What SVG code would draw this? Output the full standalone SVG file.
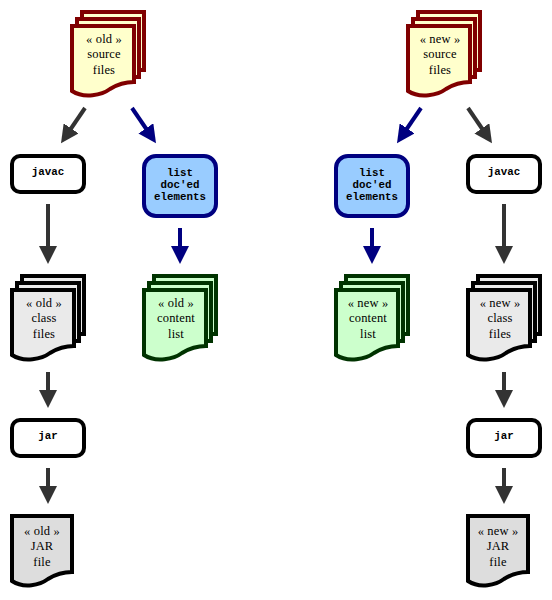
<svg xmlns="http://www.w3.org/2000/svg" xmlns:xlink="http://www.w3.org/1999/xlink" width="552" height="600" viewBox="0 0 552 600">
<style>
text{text-anchor:middle}
.t{font:12.5px "Liberation Serif",serif;fill:#000;letter-spacing:.15px}
.m{font:bold 10.8px "Liberation Mono",monospace;fill:#000}
.s{stroke-width:4;stroke-linejoin:miter}
.src{fill:#ffffcc;stroke:#800000}
.cls{fill:#eaeaea;stroke:#000}
.lst{fill:#ccffcc;stroke:#003300}
.jarf{fill:#dddddd;stroke:#000}
.proc{fill:#fff;stroke:#000;stroke-width:4}
.doc{fill:#99ccff;stroke:#000080;stroke-width:4}
.g{stroke:#333;stroke-width:4;fill:none;marker-end:url(#hg)}
.b{stroke:#000080;stroke-width:4;fill:none;marker-end:url(#hb)}
</style>
<defs>
<marker id="hg" markerUnits="userSpaceOnUse" markerWidth="18" markerHeight="18" refX="2" refY="9" orient="auto"><path d="M0,0L18,9L0,18Z" fill="#333"/></marker>
<marker id="hb" markerUnits="userSpaceOnUse" markerWidth="18" markerHeight="18" refX="2" refY="9" orient="auto"><path d="M0,0L18,9L0,18Z" fill="#000080"/></marker>
<path id="page" d="M2,2H64V58C54,58 48,60 40,65C32,71 14,75 2,67Z"/>
<path id="jarpage" d="M2,2H62V58C52,58 46,60 38,65C30,71 14,75 2,67Z"/>
<g id="stack"><rect x="12" y="-12" width="62" height="58"/><rect x="7" y="-5" width="62" height="58"/><use xlink:href="#page" href="#page"/></g>
</defs>
<g id="connectors">
<path class="g" d="M85,108L70,130"/>
<path class="b" d="M132,108L147,130"/>
<path class="g" d="M48,204V248"/>
<path class="b" d="M180,228V248"/>
<path class="g" d="M48,372V392"/>
<path class="g" d="M48,468V488"/>
<path class="b" d="M421,108L406,130"/>
<path class="g" d="M468,108L483,130"/>
<path class="b" d="M372,228V248"/>
<path class="g" d="M504,204V248"/>
<path class="g" d="M504,372V392"/>
<path class="g" d="M504,468V488"/>
</g>
<g id="old-source"><use href="#stack" xlink:href="#stack" x="70" y="24" class="s src"/><text class="t" x="104" y="43">« old »</text><text class="t" x="104" y="58">source</text><text class="t" x="104" y="74">files</text></g>
<g id="old-javac"><rect class="proc" x="12" y="156" width="72" height="36" rx="8"/><text class="m" x="48" y="175">javac</text></g>
<g id="old-list"><rect class="doc" x="144" y="156" width="72" height="60" rx="12"/><text class="m" x="180" y="176">list</text><text class="m" x="180" y="188">doc'ed</text><text class="m" x="180" y="200">elements</text></g>
<g id="old-class"><use href="#stack" xlink:href="#stack" x="10" y="288" class="s cls"/><text class="t" x="44" y="307">« old »</text><text class="t" x="44" y="322">class</text><text class="t" x="44" y="338">files</text></g>
<g id="old-content"><use href="#stack" xlink:href="#stack" x="142" y="288" class="s lst"/><text class="t" x="176" y="307">« old »</text><text class="t" x="176" y="322">content</text><text class="t" x="176" y="338">list</text></g>
<g id="old-jar"><rect class="proc" x="12" y="420" width="72" height="36" rx="8"/><text class="m" x="48" y="439">jar</text></g>
<g id="old-jarfile"><use href="#jarpage" xlink:href="#jarpage" x="10" y="514" class="s jarf"/><text class="t" x="42" y="535">« old »</text><text class="t" x="42" y="550">JAR</text><text class="t" x="42" y="566">file</text></g>
<g id="new-source"><use href="#stack" xlink:href="#stack" x="406" y="24" class="s src"/><text class="t" x="440" y="43">« new »</text><text class="t" x="440" y="58">source</text><text class="t" x="440" y="74">files</text></g>
<g id="new-list"><rect class="doc" x="336" y="156" width="72" height="60" rx="12"/><text class="m" x="372" y="176">list</text><text class="m" x="372" y="188">doc'ed</text><text class="m" x="372" y="200">elements</text></g>
<g id="new-javac"><rect class="proc" x="468" y="156" width="72" height="36" rx="8"/><text class="m" x="504" y="175">javac</text></g>
<g id="new-content"><use href="#stack" xlink:href="#stack" x="334" y="288" class="s lst"/><text class="t" x="368" y="307">« new »</text><text class="t" x="368" y="322">content</text><text class="t" x="368" y="338">list</text></g>
<g id="new-class"><use href="#stack" xlink:href="#stack" x="466" y="288" class="s cls"/><text class="t" x="500" y="307">« new »</text><text class="t" x="500" y="322">class</text><text class="t" x="500" y="338">files</text></g>
<g id="new-jar"><rect class="proc" x="468" y="420" width="72" height="36" rx="8"/><text class="m" x="504" y="439">jar</text></g>
<g id="new-jarfile"><use href="#jarpage" xlink:href="#jarpage" x="466" y="514" class="s jarf"/><text class="t" x="498" y="535">« new »</text><text class="t" x="498" y="550">JAR</text><text class="t" x="498" y="566">file</text></g>
</svg>
